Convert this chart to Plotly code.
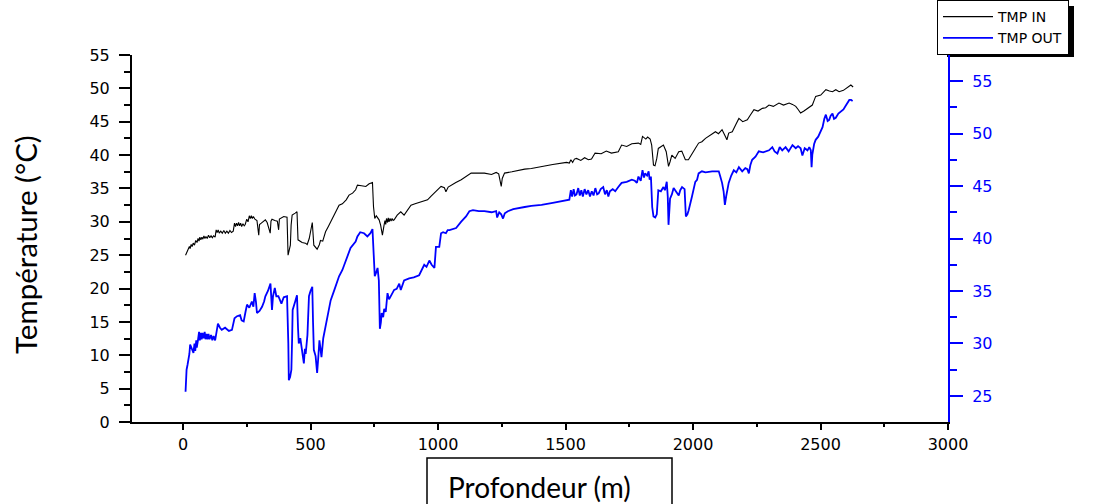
import plotly.graph_objects as go

# ---- data ----
depth_in = [10,15,20,25,28,32,36,40,45,50,55,59,63,66,70,74,78,82,86,90,95,100,105,110,115,120,126,130,134,138,142,148,154,160,166,172,178,184,190,197,202,206,210,214,218,222,226,230,235,240,244,250,255,260,264,268,272,276,282,290,
            297,300,307,315,323,330,342,345,349,360,370,375,378,395,408,412,418,421,424,428,440,447,451,460,467,480,487,495,502,507,513,520,526,535,539,548,559,570,579,595,612,625,640,651,665,677,684,700,717,730,743,747,752,758,762,769,775,782,788,
            792,795,798,802,805,808,812,816,820,824,828,
            840,854,867,880,894,910,933,959,972,986,1000,1012,1025,1031,1040,1051,1070,1091,1110,1130,1160,1182,1210,1228,1238,1243,1248,1252,1261,1290,1314,1340,1366,1406,1450,1504,1515,1521,1528,1535,1543,1560,1575,1590,1602,1616,1640,1660,1680,1707,1720,1740,1760,1786,1795,1802,1815,1822,1832,1838,1845,1851,1858,1864,1884,1895,1904,1910,1917,1930,1944,1956,1963,1970,1982,1996,2009,2022,2035,2049,2070,2088,2100,2114,2127,2133,2140,2154,2167,2180,2195,2213,2225,2239,2255,2272,2285,2298,2315,2337,2355,2377,2390,2403,2413,2422,2435,2449,2460,2468,2475,2481,2501,2515,2521,2535,2547,2560,2573,2590,2600,2612,2619,2628]
tmp_in = [25.0,25.5,25.8,26.3,26.0,26.6,26.3,26.8,26.5,27.2,26.9,27.5,27.1,27.7,27.3,27.7,27.4,27.9,27.5,27.8,27.5,28.0,27.6,27.9,27.6,27.9,27.7,28.8,28.4,28.8,28.3,28.6,28.3,28.7,28.3,28.6,28.3,28.7,28.4,28.6,29.8,29.3,29.8,29.4,29.9,29.4,29.8,29.3,29.7,29.4,29.6,30.4,30.0,30.9,30.5,30.9,30.5,30.8,30.4,30.2,
          28.0,29.6,29.8,30.0,30.3,29.9,28.3,30.1,30.4,30.2,30.1,28.8,30.4,30.8,30.7,25.0,25.8,26.5,29.5,31.0,31.3,31.5,27.3,27.1,26.9,26.8,26.6,27.5,29.2,29.9,26.5,26.2,25.9,26.6,27.2,27.1,28.5,29.3,30.0,31.2,32.5,32.7,33.3,34.0,34.3,34.8,35.5,35.4,35.3,35.7,35.9,32.3,30.5,30.9,30.6,30.3,29.5,28.0,29.4,
          30.2,29.6,30.5,29.9,30.6,30.0,30.5,30.1,30.5,30.2,30.3,
          31.0,31.5,31.0,31.8,32.5,32.7,33.0,33.3,33.8,34.3,34.8,35.3,35.1,34.5,35.2,35.5,35.9,36.3,36.8,37.3,37.3,37.3,37.1,37.4,37.2,36.4,35.3,36.5,37.3,37.5,37.7,37.9,38.0,38.3,38.6,38.9,38.8,39.3,38.9,39.4,39.5,39.2,39.6,39.3,39.4,40.3,40.2,40.6,40.3,40.5,41.5,41.3,41.7,41.8,41.6,42.8,42.4,42.7,42.4,41.5,38.5,38.4,39.5,41.0,41.5,40.5,38.3,39.0,40.0,39.5,40.5,40.6,40.0,39.3,39.3,40.3,41.0,41.8,42.0,42.5,43.0,43.5,43.2,43.8,42.8,42.3,43.3,43.5,44.5,45.5,45.0,45.3,46.0,46.8,46.6,47.0,47.1,47.5,47.3,47.8,47.5,47.8,47.6,47.3,46.8,46.3,46.6,47.0,47.4,47.5,48.2,48.8,49.0,49.6,49.8,49.6,49.5,49.8,49.5,49.7,50.0,50.3,50.5,50.2]

depth_out = [10,12,14,18,21,25,28,35,41,45,48,52,54,58,63,66,70,73,76,80,85,88,92,96,100,104,110,115,120,126,
             132,137,145,152,165,180,192,202,212,224,230,238,245,251,260,270,276,281,286,290,300,310,318,323,333,343,349,353,360,366,374,380,386,395,408,413,415,420,425,428,430,440,447,451,454,460,467,474,478,481,488,494,500,507,510,513,520,526,530,535,539,543,550,559,570,579,595,612,625,638,657,677,684,695,710,723,735,743,747,752,758,763,768,772,776,779,785,789,795,802,808,815,822,828,838,848,854,860,867,887,905,926,946,955,966,975,986,992,1005,1012,1020,1031,1038,1045,1071,1091,1110,1123,1137,1160,1182,1210,1228,1232,1235,1240,1248,1255,1262,1274,1295,1314,1340,1366,1406,1450,1497,1515,1521,1526,1532,1537,1543,1550,1556,1562,1568,1575,1582,1589,1596,1603,1610,1617,1624,1630,1638,1648,1655,1662,1668,1674,1685,1695,1707,1720,1740,1760,1772,1780,1786,1795,1802,1808,1812,1820,1826,1830,1835,1840,1845,1852,1858,1864,1874,1884,1890,1897,1901,1904,1910,1917,1924,1930,1937,1944,1950,1957,1967,1972,1978,1983,1996,2009,2016,2022,2035,2049,2075,2101,2107,2114,2120,2125,2130,2134,2140,2150,2160,2170,2180,2193,2205,2213,2219,2225,2232,2245,2258,2275,2298,2311,2320,2331,2340,2350,2363,2375,2390,2403,2412,2422,2429,2438,2449,2456,2462,2465,2468,2475,2481,2491,2500,2508,2515,2521,2528,2534,2540,2547,2553,2560,2570,2580,2590,2600,2608,2613,2620,2626]
tmp_out = [25.4,26.5,27.5,28.0,28.4,29.0,29.9,29.4,29.1,30.0,29.3,30.3,29.6,30.2,31.1,30.3,31.0,30.4,31.0,30.5,31.1,30.4,30.9,30.4,30.9,30.4,30.8,30.3,30.7,30.3,
           31.2,31.9,31.5,31.3,31.5,31.2,31.3,32.4,32.6,32.7,32.2,32.1,33.0,33.7,33.4,34.0,33.5,34.8,34.0,32.9,33.1,33.5,34.0,34.5,35.0,35.7,33.2,34.5,35.3,34.5,34.5,34.2,33.8,34.4,34.5,30.0,26.5,26.8,27.5,30.5,33.2,34.0,34.6,31.5,30.0,30.5,29.2,28.1,29.5,29.0,30.8,34.5,35.0,35.4,32.0,29.4,28.8,27.2,28.5,30.3,29.5,28.7,30.5,31.6,33.0,34.1,35.2,36.4,37.0,37.8,39.1,39.7,40.2,40.6,40.5,40.2,40.5,40.9,38.1,36.4,36.8,37.2,36.0,31.4,32.0,32.9,32.5,33.3,33.0,34.8,34.2,34.5,34.9,35.1,35.2,35.7,35.1,35.5,36.0,36.2,36.3,36.5,37.5,37.3,37.9,37.5,37.2,39.2,39.2,40.5,40.6,40.5,40.8,40.8,41.0,41.6,42.1,42.6,42.7,42.6,42.6,42.5,42.6,42.0,42.3,42.5,42.3,41.9,42.4,42.6,42.8,42.9,43.0,43.1,43.2,43.4,43.6,43.7,44.6,44.0,44.7,44.1,44.2,44.8,44.1,44.6,44.0,44.7,44.2,44.6,44.0,44.5,44.1,44.8,44.2,44.3,44.7,44.9,44.2,44.6,44.0,44.5,44.7,44.5,44.9,45.3,45.4,45.6,45.5,45.3,45.9,45.5,46.5,45.8,46.2,46.0,46.4,45.6,45.9,43.0,42.1,42.0,42.3,44.6,44.5,44.9,44.6,45.4,44.0,41.3,43.8,44.2,44.8,44.6,44.3,44.1,44.6,44.9,44.7,42.1,42.3,42.7,44.0,45.4,45.6,46.2,46.4,46.3,46.4,46.4,45.9,45.3,44.5,43.2,44.0,44.6,45.3,46.0,46.5,46.3,46.8,46.4,46.7,46.6,46.2,47.0,47.5,47.8,48.3,48.2,48.4,48.7,48.3,48.1,48.7,48.4,48.7,48.3,48.9,48.6,48.8,48.6,47.9,48.6,48.4,48.7,48.4,46.8,48.0,49.0,49.4,49.7,50.1,50.6,51.4,51.8,51.2,51.3,51.7,51.9,51.4,51.5,51.9,52.1,52.3,52.7,53.0,53.2,53.2,53.1]

x_ticks = [0, 500, 1000, 1500, 2000, 2500, 3000]
y_left_ticks = [0, 5, 10, 15, 20, 25, 30, 35, 40, 45, 50, 55]
y_right_ticks = [25, 30, 35, 40, 45, 50, 55]
y_right_range = [22.52, 57.48]

W, H = 1104, 504
L, R, T, B = 132, 948, 55, 422


def px(x):
    return (x - L) / (R - L)


def py(y):
    return (B - y) / (B - T)


tick_font = dict(family="DejaVu Sans", size=16, color="black")
BLUE = "#0000ff"

fig = go.Figure()
fig.add_trace(go.Scatter(x=depth_in, y=tmp_in, mode="lines", name="TMP IN",
                         line=dict(color="black", width=1.1)))
fig.add_trace(go.Scatter(x=depth_out, y=tmp_out, mode="lines", name="TMP OUT",
                         line=dict(color=BLUE, width=1.8), yaxis="y2"))

fig.update_layout(
    width=W, height=H,
    margin=dict(l=L, r=W - R, t=T, b=H - B, pad=0, autoexpand=False),
    plot_bgcolor="white", paper_bgcolor="white",
    showlegend=True,
    legend=dict(x=px(937), y=py(0), xanchor="left", yanchor="top",
                bgcolor="white", bordercolor="black", borderwidth=1,
                font=dict(family="DejaVu Sans", size=14, color="black"),
                tracegroupgap=0, itemwidth=50),
    xaxis=dict(range=[-200, 3000], tickvals=x_ticks, ticks="outside", ticklen=6,
               tickwidth=1.5, tickcolor="black", showline=True, linecolor="black",
               linewidth=1.5, showgrid=False, zeroline=False, tickfont=tick_font,
               ticklabelstandoff=1,
               minor=dict(dtick=250, tick0=0, ticks="outside", ticklen=3,
                          tickwidth=1.5, tickcolor="black", showgrid=False)),
    xaxis2=dict(range=[-200, 3000], overlaying="x", side="top", dtick=250, tick0=0,
                ticks="inside", ticklen=4, tickwidth=1.5, tickcolor="black",
                showticklabels=False, showline=True, linecolor="black",
                linewidth=1.5, showgrid=False, zeroline=False),
    yaxis=dict(range=[0, 55], tickvals=y_left_ticks, ticks="outside", ticklen=11,
               tickwidth=1.5, tickcolor="black", showline=True, linecolor="black",
               linewidth=2, showgrid=False, zeroline=False, tickfont=tick_font,
               ticklabelstandoff=6,
               minor=dict(dtick=2.5, tick0=0, ticks="outside", ticklen=6,
                          tickwidth=1.5, tickcolor="black", showgrid=False)),
    yaxis2=dict(range=y_right_range, tickvals=y_right_ticks, overlaying="y",
                side="right", ticks="outside", ticklen=13, tickwidth=1.5,
                tickcolor=BLUE, showline=True, linecolor=BLUE,
                linewidth=2, showgrid=False, zeroline=False,
                tickfont=dict(family="DejaVu Sans", size=16, color=BLUE),
                ticklabelstandoff=6,
                minor=dict(dtick=2.5, tick0=22.5, ticks="outside", ticklen=7,
                           tickwidth=1.5, tickcolor=BLUE, showgrid=False)),
    shapes=[
        # legend shadow
        dict(type="rect", xref="paper", yref="paper", x0=px(947), x1=px(1074),
             y0=py(6), y1=py(57), fillcolor="black", line=dict(width=0),
             layer="below"),
        # box around x title
        dict(type="rect", xref="paper", yref="paper", x0=px(427), x1=px(672),
             y0=py(458), y1=py(520), line=dict(color="black", width=1.5),
             fillcolor="rgba(0,0,0,0)"),
    ],
    annotations=[
        dict(text="Profondeur (m)", xref="paper", yref="paper", x=px(446),
             y=py(487), xanchor="left", yanchor="middle", showarrow=False,
             font=dict(family="Lato", size=28, color="black")),
        dict(text="Température (°C)", xref="paper", yref="paper", x=px(26),
             y=py(244), xanchor="center", yanchor="middle", textangle=-90,
             showarrow=False, font=dict(family="Lato", size=29.5, color="black")),
    ],
)

fig.write_html("out.html")
